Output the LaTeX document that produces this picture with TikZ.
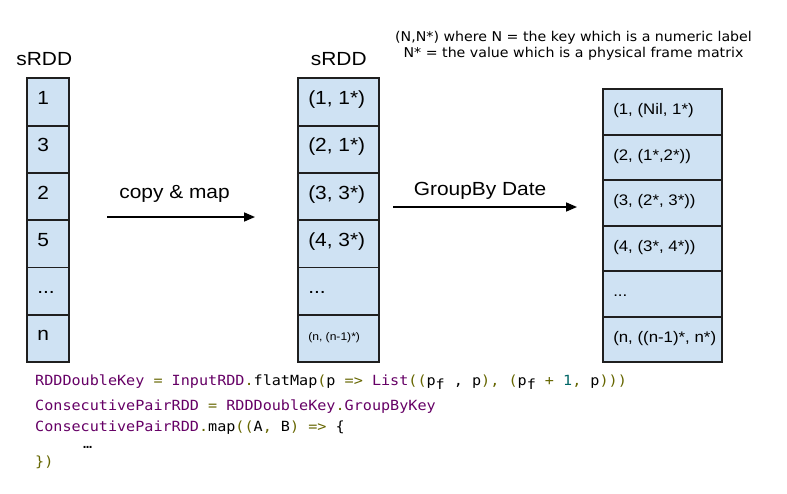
\documentclass[tikz,border=0pt]{standalone}
\usepackage{fontspec}
\setmainfont{Liberation Sans}[FakeStretch=1.1]
\setmonofont{DejaVu Sans Mono}[FakeStretch=1.08]
\newfontfamily\notefont{DejaVu Sans}[FakeStretch=1.05]
\usepackage{xcolor}
\usepackage{tikz}
\usetikzlibrary{arrows.meta, positioning}
\definecolor{cellblue}{RGB}{207, 226, 243}
\definecolor{codepurple}{RGB}{102, 0, 102}
\definecolor{codeolive}{RGB}{102, 102, 0}
\definecolor{codeteal}{RGB}{0, 102, 102}
\newcommand{\cid}[1]{\textcolor{codepurple}{#1}}
\newcommand{\cop}[1]{\textcolor{codeolive}{#1}}
\newcommand{\cnum}[1]{\textcolor{codeteal}{#1}}
\newcommand{\psub}{p\raisebox{-4pt}{f}}

\begin{document}
\begin{tikzpicture}[x=1pt, y=-1pt,
    cell/.style={draw=black!88, line width=1.9pt, fill=cellblue, inner xsep=10pt,
                 align=flush left, text height=0.72em, text depth=0.22em,
                 font=\fontsize{19}{22}\selectfont},
    narrow/.style={cell, text width=22pt, minimum height=47.3pt},
    wide/.style={cell, text width=61pt, minimum height=47.3pt},
    pairs/.style={cell, text width=99pt, minimum height=45.5pt,
                  font=\fontsize{15.3}{18}\selectfont},
    title/.style={font=\fontsize{19}{22}\selectfont},
    arrowlbl/.style={anchor=base, inner sep=0pt, font=\fontsize{19}{22}\selectfont},
    flow/.style={line width=1.6pt, -{Triangle[length=11pt, width=9pt]}},
    code/.style={anchor=base west, inner sep=0pt,
                 font=\ttfamily\frenchspacing\fontsize{14}{17}\selectfont}
]
    \fill[white] (0,0) rectangle (787,493);
    \useasboundingbox (0,0) rectangle (787,493);

    % input RDD
    \matrix (inrdd) [anchor=north west, inner sep=0pt, row sep=-1.9pt] at (26.1,77.1) {
        \node[narrow] (in1) {1}; \\
        \node[narrow] (in2) {3}; \\
        \node[narrow] (in3) {2}; \\
        \node[narrow] (in4) {5}; \\
        \node[narrow] (in5) {...}; \\
        \node[narrow] (in6) {n}; \\
    };
    \node[title, above=8pt of inrdd, xshift=-4pt] (intitle) {sRDD};

    % keyed RDD
    \matrix (keyrdd) [anchor=north west, inner sep=0pt, row sep=-1.9pt] at (297.1,77.1) {
        \node[wide] (key1) {(1, 1*)}; \\
        \node[wide] (key2) {(2, 1*)}; \\
        \node[wide] (key3) {(3, 3*)}; \\
        \node[wide] (key4) {(4, 3*)}; \\
        \node[wide] (key5) {...}; \\
        \node[wide] (key6) {\fontsize{11}{13}\selectfont\mbox{(n, (n-1)*)}}; \\
    };
    \node[title, above=8pt of keyrdd] (keytitle) {sRDD};

    % grouped RDD
    \matrix (grprdd) [anchor=north west, inner sep=0pt, row sep=-1.9pt] at (602.1,88.1) {
        \node[pairs] (grp1) {\mbox{(1, (Nil, 1*)}}; \\
        \node[pairs] (grp2) {\mbox{(2, (1*,2*))}}; \\
        \node[pairs] (grp3) {\mbox{(3, (2*, 3*))}}; \\
        \node[pairs] (grp4) {\mbox{(4, (3*, 4*))}}; \\
        \node[pairs] (grp5) {...}; \\
        \node[pairs] (grp6) {\mbox{(n, ((n-1)*, n*)}}; \\
    };

    \node[align=center, inner sep=0pt, font=\notefont\fontsize{13.5}{16}\selectfont]
        (note) at (573.5,46) {(N,N*) where N = the key which is a numeric label\\
        N* = the value which is a physical frame matrix};

    % arrows
    \coordinate (copyfrom) at (107,217);
    \coordinate (copyto) at (255,217);
    \draw[flow] (copyfrom) -- (copyto);
    \node[arrowlbl] (copylbl) at (174.5,198) {copy \& map};

    \coordinate (groupfrom) at (393,207);
    \coordinate (groupto) at (577,207);
    \draw[flow] (groupfrom) -- (groupto);
    \node[arrowlbl] (grouplbl) at (480,195) {GroupBy Date};

    % code
    \node[code] (line1) at (35,385) {\cid{RDDDoubleKey} \cop{=} \cid{InputRDD}\cop{.}flatMap\cop{(}p \cop{=>} \cid{List}\cop{((}\psub{} , p\cop{),} \cop{(}\psub{} \cop{+} \cnum{1}\cop{,} p\cop{)))}};
    \node[code] (line2) at (35,410) {\cid{ConsecutivePairRDD} \cop{=} \cid{RDDDoubleKey}\cop{.}\cid{GroupByKey}};
    \node[code] (line3) at (35,431) {\cid{ConsecutivePairRDD}\cop{.}map\cop{((}A\cop{,} B\cop{)} \cop{=>} \{};
    \node[code] (line4) at (83,448) {…};
    \node[code] (line5) at (35,466) {\cop{\})}};
\end{tikzpicture}
\end{document}
